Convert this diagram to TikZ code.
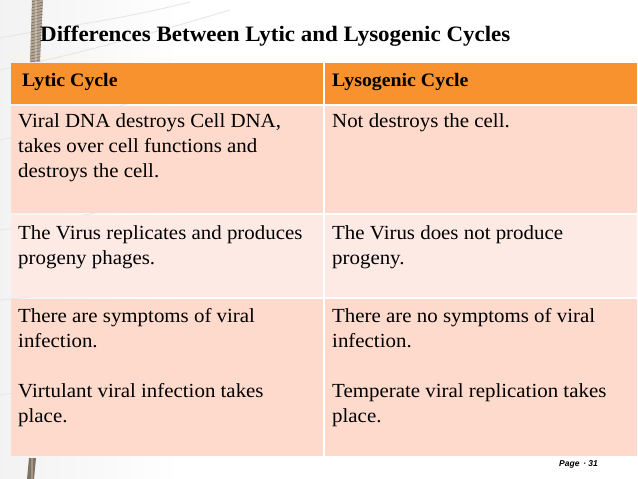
\documentclass[tikz,border=0pt]{standalone}
\usepackage{fontspec}
\setmainfont{Liberation Serif}[FakeStretch=1.045]
\newfontfamily\pagefont{Liberation Sans}
\definecolor{hdrorange}{HTML}{F7922E}
\definecolor{rowpink}{HTML}{FDDACB}
\definecolor{rowlight}{HTML}{FDEAE4}
\definecolor{ropecol}{HTML}{B3A795}
\definecolor{ropedark}{HTML}{7F7264}
\definecolor{bgline}{HTML}{E4E6E8}
\begin{document}
\begin{tikzpicture}[x=1pt,y=-1pt,
  bodytext/.style={inner sep=0pt, anchor=base west, font=\fontsize{20}{25}\selectfont},
  headtext/.style={inner sep=0pt, anchor=base west, font=\bfseries\fontsize{19}{23}\selectfont},
  titletext/.style={inner sep=0pt, anchor=base west, font=\bfseries\fontsize{22}{26}\selectfont},
  pagetext/.style={inner sep=0pt, anchor=base west, font=\pagefont\bfseries\itshape\fontsize{8.5}{10}\selectfont},
  bgcurve/.style={draw=bgline, line width=0.9pt},
]
% background
\useasboundingbox (0,0) rectangle (638,479);
\fill[white] (0,0) rectangle (638,479);
\shade[left color=black!5, right color=white] (0,0) rectangle (180,479);
\draw[bgcurve] (0,38) .. controls (50,28) and (110,22) .. (190,2);
\draw[bgcurve] (0,70) .. controls (60,58) and (130,40) .. (230,10);
\draw[bgcurve] (0,140) .. controls (40,132) and (90,118) .. (150,95);
\draw[bgcurve] (0,230) .. controls (30,226) and (60,220) .. (100,212);
\draw[bgcurve] (0,300) .. controls (20,298) and (40,296) .. (70,292);
\draw[bgcurve] (0,395) .. controls (20,392) and (40,390) .. (70,386);
% rope at top
\begin{scope}
  \clip (32,0) -- (43,0) -- (40,62) -- (30,62) -- cycle;
  \fill[ropecol] (25,0) rectangle (50,62);
  \foreach \k in {0,3,...,72} {\draw[ropedark, line width=0.7pt] (26,\k) -- (48,\k-5);}
  \fill[white, opacity=0.25] (35,0) rectangle (37,62);
\end{scope}
% rope piece at bottom
\begin{scope}
  \clip (29,458) -- (36,458) -- (34,479) -- (27,479) -- cycle;
  \fill[ropedark] (25,458) rectangle (40,479);
  \fill[ropecol, opacity=0.7] (31,458) rectangle (33,479);
\end{scope}
% table cells
\fill[hdrorange] (11,63) rectangle (323,104);
\fill[hdrorange] (325,63) rectangle (637,104);
\fill[rowpink] (11,106) rectangle (323,213);
\fill[rowpink] (325,106) rectangle (637,213);
\fill[rowlight] (11,215) rectangle (323,297);
\fill[rowlight] (325,215) rectangle (637,297);
\fill[rowpink] (11,299) rectangle (323,456);
\fill[rowpink] (325,299) rectangle (637,456);
% title
\node[titletext] (title) at (40,41.7) {Differences Between Lytic and Lysogenic Cycles};
% header
\node[headtext] (h1) at (22,86) {Lytic Cycle};
\node[headtext] (h2) at (332,86) {Lysogenic Cycle};
% row 1
\node[bodytext] (r1a) at (18,127.7) {\parbox[t]{300pt}{\raggedright Viral DNA destroys Cell DNA,\\takes over cell functions and\\destroys the cell.}};
\node[bodytext] (r1b) at (332,127.7) {Not destroys the cell.};
% row 2
\node[bodytext] (r2a) at (18,239) {\parbox[t]{300pt}{\raggedright The Virus replicates and produces\\progeny phages.}};
\node[bodytext] (r2b) at (332,239) {\parbox[t]{300pt}{\raggedright The Virus does not produce\\progeny.}};
% row 3
\node[bodytext] (r3a) at (18,322.3) {\parbox[t]{300pt}{\raggedright There are symptoms of viral\\infection.\\[25pt]Virtulant viral infection takes\\place.}};
\node[bodytext] (r3b) at (332,322.3) {\parbox[t]{300pt}{\raggedright There are no symptoms of viral\\infection.\\[25pt]Temperate viral replication takes\\place.}};
% page number
\node[pagetext] (page) at (559,466) {Page \,· 31};
\end{tikzpicture}
\end{document}
